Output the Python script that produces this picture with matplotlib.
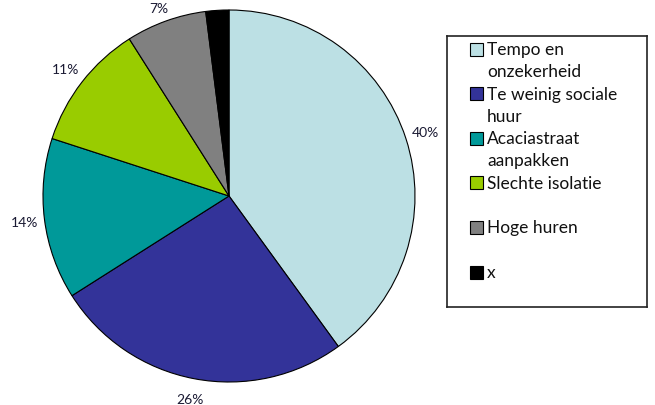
import matplotlib
matplotlib.use("Agg")
import matplotlib.pyplot as plt
from matplotlib.patches import Rectangle

categories = ["Tempo en\nonzekerheid", "Te weinig sociale\nhuur", "Acaciastraat\naanpakken",
              "Slechte isolatie", "Hoge huren", "x"]
values = [40, 26, 14, 11, 7, 2]
pct_labels = ["40%", "26%", "14%", "11%", "7%", ""]
colors = ["#BCE0E4", "#333399", "#009999", "#99CC00", "#808080", "#000000"]

W, H = 655, 406
fig = plt.figure(figsize=(W / 100, H / 100), dpi=100)
fig.patch.set_facecolor("white")

def frac(x0, y0, x1, y1):
    return [x0 / W, 1 - y1 / H, (x1 - x0) / W, (y1 - y0) / H]

# pie plot area
ax = fig.add_axes(frac(43, 11, 415, 383))
wedges, texts = ax.pie(values, colors=colors, startangle=90, counterclock=False,
                       radius=1.0, labels=pct_labels, labeldistance=1.11,
                       wedgeprops=dict(edgecolor="black", linewidth=0.8),
                       textprops=dict(fontsize=10, family="Lato", color="#1a1a33"))
for t in texts:
    t.set_ha("center")
    t.set_va("center")
# keep the top label inside the figure
texts[4].set_va("top")
ax.set_xlim(-1, 1)
ax.set_ylim(-1, 1)
ax.set_aspect("auto")
ax.set_xticks([])
ax.set_yticks([])
for s in ax.spines.values():
    s.set_visible(True)
    s.set_linewidth(1.2)
    s.set_edgecolor("#222222")
    s.set_zorder(0)

# legend
lax = fig.add_axes(frac(447, 37, 647, 308))
lax.set_xlim(447, 647)
lax.set_ylim(308, 37)
lax.set_xticks([])
lax.set_yticks([])
for s in lax.spines.values():
    s.set_linewidth(1.2)
    s.set_edgecolor("#222222")

y0 = 50
step = 44.6
line_h = 22
for k, (lab, col) in enumerate(zip(categories, colors)):
    yc = y0 + k * step
    lax.add_patch(Rectangle((470, yc - 6.5), 13, 13, facecolor=col, edgecolor="black", linewidth=0.8))
    for i, line in enumerate(lab.split("\n")):
        lax.text(487, yc + i * line_h, line, fontsize=12.5, family="Lato", color="#111111",
                 ha="left", va="center")

fig.savefig("out.png", dpi=100)
